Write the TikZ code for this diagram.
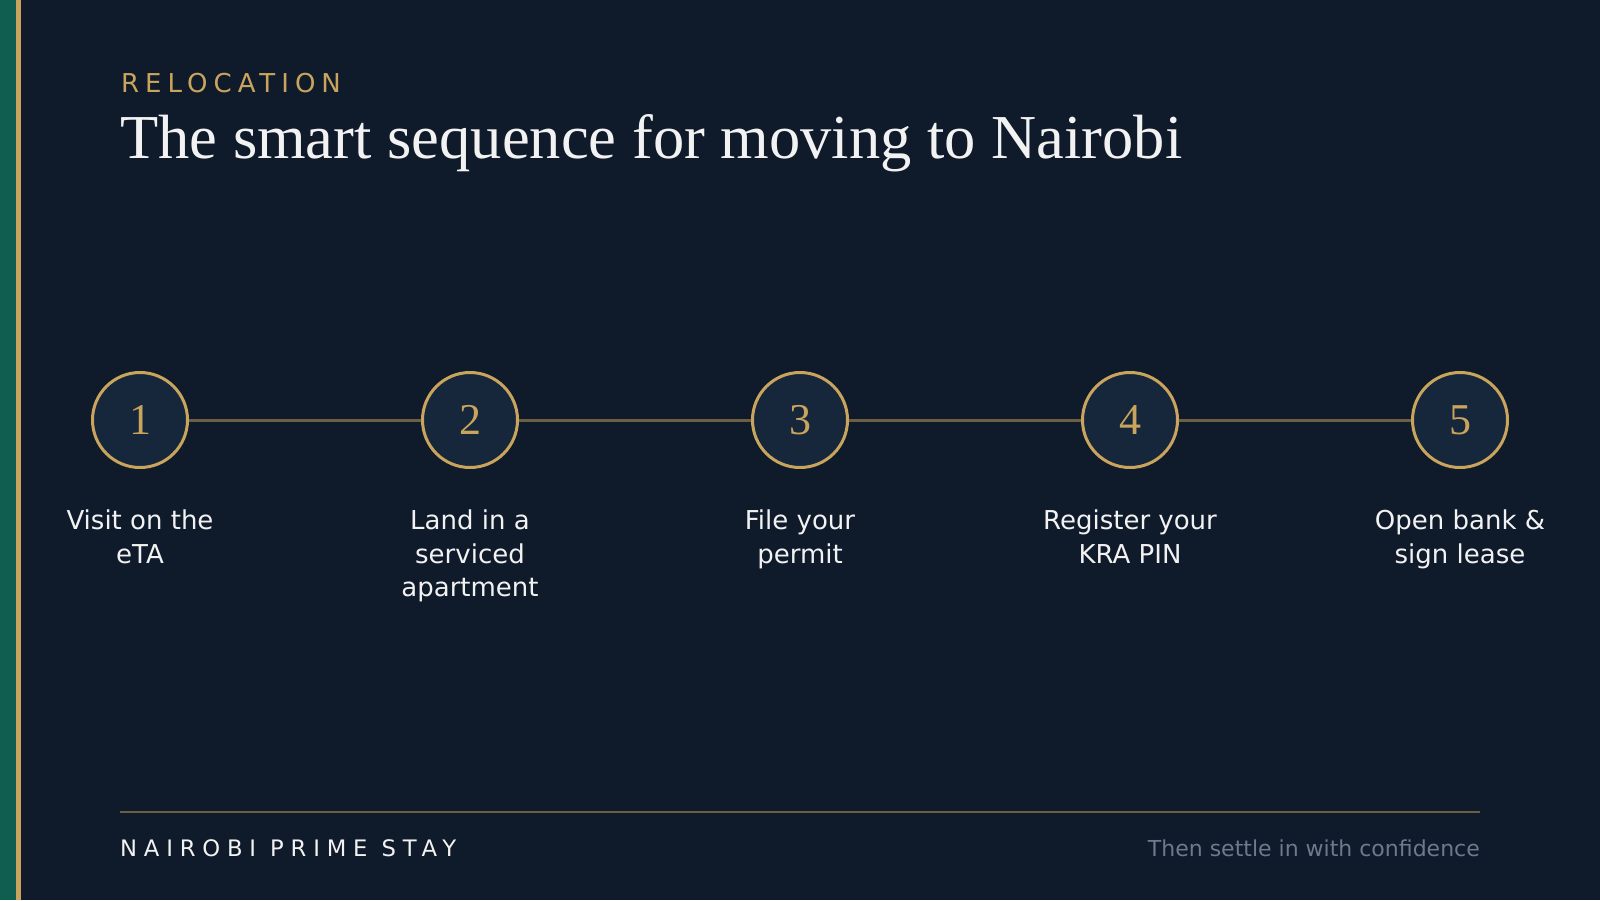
\documentclass[tikz,border=0pt]{standalone}
\usepackage{fontspec}
\setmainfont{Liberation Serif}
\setsansfont{DejaVu Sans}
\newfontfamily\labelsans{DejaVu Sans}
\newfontfamily\kickerfont[LetterSpace=23]{DejaVu Sans}
\newfontfamily\brandfont[LetterSpace=30]{DejaVu Sans}
\definecolor{bg}{HTML}{0F1A2B}
\definecolor{gold}{HTML}{C9A45C}
\definecolor{golddim}{HTML}{6C5F43}
\definecolor{barGreen}{HTML}{0F5E4F}
\definecolor{circfill}{HTML}{16263B}
\definecolor{softwhite}{HTML}{F2F2F2}
\definecolor{slate}{HTML}{6B7A8C}
\tikzset{
  stepcircle/.style={circle, draw=gold, line width=3pt, fill=circfill,
    minimum size=95pt, inner sep=0pt, text=gold,
    font=\fontsize{44}{44}\selectfont},
  link/.style={draw=golddim, line width=3pt},
  steplabel/.style={anchor=base, align=center, inner sep=0pt, text=softwhite,
    font=\labelsans\fontsize{26}{33.7}\selectfont}
}
\begin{document}
\begin{tikzpicture}[x=1pt,y=-1pt]
\useasboundingbox (0,0) rectangle (1600,900);
\fill[bg] (0,0) rectangle (1600,900);
\fill[barGreen] (0,0) rectangle (16,900);
\fill[gold] (16,0) rectangle (21,900);

\node[anchor=base west, inner sep=0pt, text=gold,
  font=\kickerfont\fontsize{26}{26}\selectfont] (kicker) at (121,92) {RELOCATION};
\node[anchor=base west, inner sep=0pt, text=softwhite,
  font=\fontsize{62.5}{62.5}\selectfont] (title) at (120,158) {The smart sequence for moving to Nairobi};

\node[stepcircle] (c1) at (140,420) {1};
\node[stepcircle] (c2) at (470,420) {2};
\node[stepcircle] (c3) at (800,420) {3};
\node[stepcircle] (c4) at (1130,420) {4};
\node[stepcircle] (c5) at (1460,420) {5};

\draw[link] (c1) -- (c2);
\draw[link] (c2) -- (c3);
\draw[link] (c3) -- (c4);
\draw[link] (c4) -- (c5);

% anchor=base is the baseline of the last line
\node[steplabel] (l1) at (140,563.2) {Visit on the\\eTA};
\node[steplabel] (l2) at (470,596.9) {Land in a\\serviced\\apartment};
\node[steplabel] (l3) at (800,563.2) {File your\\permit};
\node[steplabel] (l4) at (1130,563.2) {Register your\\KRA PIN};
\node[steplabel] (l5) at (1460,563.2) {Open bank \&\\sign lease};

\draw[golddim, line width=2pt] (120,812) -- (1480,812);
\node[anchor=base west, inner sep=0pt, text=softwhite,
  font=\brandfont\fontsize{22.7}{22.7}\selectfont] (brand) at (120,856) {NAIROBI PRIME STAY};
\node[anchor=base east, inner sep=0pt, text=slate,
  font=\labelsans\fontsize{22}{22}\selectfont] (tagline) at (1480,856) {Then settle in with confidence};
\end{tikzpicture}
\end{document}
